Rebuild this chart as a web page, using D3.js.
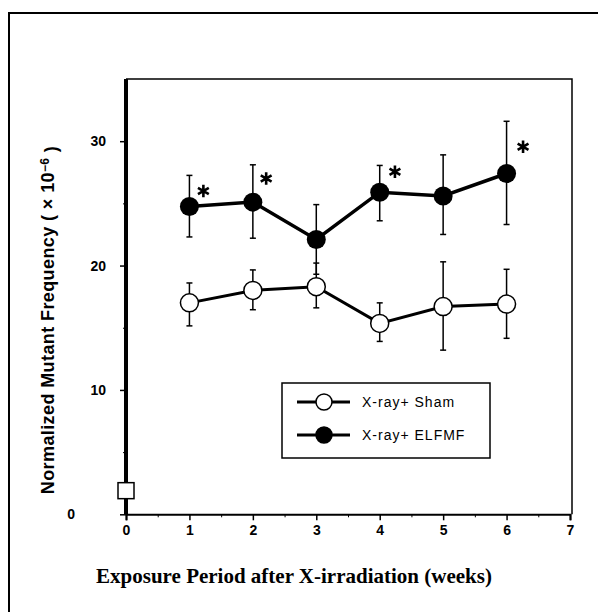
<!DOCTYPE html>
<html>
<head>
<meta charset="utf-8">
<script src="https://cdn.jsdelivr.net/npm/d3@7"></script>
<style>
  body { margin: 0; background: #fff; }
  svg { display: block; }
  .tick text { font-family: Arial, "Liberation Sans", sans-serif; font-weight: bold; font-size: 14px; fill: #000; }
</style>
</head>
<body>
<div id="vis-container"></div>
<script>
// data (normalized mutant frequency, x 10^-6)
const weeks = [1, 2, 3, 4, 5, 6];

const elfMean = [24.75, 25.1, 22.1, 25.9, 25.6, 27.4];
const elfLow  = [22.3, 22.2, 19.3, 23.6, 22.5, 23.3];
const elfHigh = [27.25, 28.1, 24.9, 28.05, 28.9, 31.6];

const shamMean = [17.0, 18.0, 18.3, 15.35, 16.7, 16.9];
const shamLow  = [15.15, 16.45, 16.6, 13.9, 13.2, 14.15];
const shamHigh = [18.6, 19.65, 20.2, 17.0, 20.3, 19.7];

// unexposed control at week 0
const controlWeek = [0];
const controlValue = [1.9];

// significance marks (data units)
const starWeek = [1.22, 2.21, 4.24, 6.26];
const starValue = [26.0, 27.0, 27.55, 29.55];

const xTicks = [0, 1, 2, 3, 4, 5, 6, 7];
const xMinorTicks = [0.5, 1.5, 2.5, 3.5, 4.5, 5.5, 6.5];
const yTicks = [0, 10, 20, 30];
const yMinorTicks = [5, 15, 25];

const legendLabels = ["X-ray+ Sham", "X-ray+ ELFMF"];

let width = 598;
let height = 612;

let svg = d3.select("#vis-container").append("svg").attr("width", width).attr("height", height);

// outer frame of the figure (runs off the right and bottom edge)
svg.append("rect")
    .attr("x", 9).attr("y", 13).attr("width", 620).attr("height", 620)
    .attr("fill", "none").attr("stroke", "#000").attr("stroke-width", 2);

let xScale = d3.scaleLinear().domain([0, 7]).range([126, 570]);
let yScale = d3.scaleLinear().domain([0, 35]).range([514.3, 79]);

let data = weeks.map((w, i) => ({
    week: w,
    elf: elfMean[i], elfLo: elfLow[i], elfHi: elfHigh[i],
    sham: shamMean[i], shamLo: shamLow[i], shamHi: shamHigh[i]
}));

// plot box: thin top and right borders
svg.append("path")
    .attr("d", `M${xScale(0)},${yScale(35)}H${xScale(7) + 2}V${yScale(0)}`)
    .attr("fill", "none").attr("stroke", "#000").attr("stroke-width", 1.5);

// x axis
let xAxisG = svg.append("g")
    .attr("transform", "translate(0," + yScale(0) + ")")
    .call(d3.axisBottom(xScale).tickValues(xTicks).tickSize(6).tickPadding(5).tickFormat(d3.format("d")));
xAxisG.select(".domain").attr("stroke-width", 2);
xAxisG.selectAll(".tick line").attr("stroke-width", 1.5);

svg.append("g")
    .attr("transform", "translate(0," + yScale(0) + ")")
    .call(d3.axisBottom(xScale).tickValues(xMinorTicks).tickSize(3).tickFormat(""))
    .call(g => g.select(".domain").remove());

// y axis
let yAxisG = svg.append("g")
    .attr("transform", "translate(" + xScale(0) + ",0)")
    .call(d3.axisLeft(yScale).tickValues(yTicks).tickSize(6).tickPadding(14));
yAxisG.select(".domain").remove();
yAxisG.selectAll(".tick line").attr("stroke-width", 1.5);
yAxisG.selectAll(".tick").filter(d => d === 0).select("text").attr("dx", -31);

svg.append("g")
    .attr("transform", "translate(" + xScale(0) + ",0)")
    .call(d3.axisLeft(yScale).tickValues(yMinorTicks).tickSize(3).tickFormat(""))
    .call(g => g.select(".domain").remove());

// thick left axis line
svg.append("line")
    .attr("x1", xScale(0)).attr("x2", xScale(0))
    .attr("y1", yScale(35)).attr("y2", yScale(0))
    .attr("stroke", "#000").attr("stroke-width", 4);

// error bars
function errorBars(lo, hi) {
    let g = svg.append("g").attr("stroke", "#000").attr("stroke-width", 1.5);
    g.selectAll("line.v").data(data).enter().append("line")
        .attr("x1", d => xScale(d.week)).attr("x2", d => xScale(d.week))
        .attr("y1", d => yScale(d[lo])).attr("y2", d => yScale(d[hi]));
    [lo, hi].forEach(k => {
        g.selectAll("line.c" + k).data(data).enter().append("line")
            .attr("x1", d => xScale(d.week) - 3).attr("x2", d => xScale(d.week) + 3)
            .attr("y1", d => yScale(d[k])).attr("y2", d => yScale(d[k]));
    });
}
errorBars("elfLo", "elfHi");
errorBars("shamLo", "shamHi");

// lines
let lineElf = d3.line().x(d => xScale(d.week)).y(d => yScale(d.elf));
let lineSham = d3.line().x(d => xScale(d.week)).y(d => yScale(d.sham));

svg.append("path").attr("d", lineSham(data))
    .attr("fill", "none").attr("stroke", "#000").attr("stroke-width", 3);
svg.append("path").attr("d", lineElf(data))
    .attr("fill", "none").attr("stroke", "#000").attr("stroke-width", 3.5);

// markers
svg.append("g").selectAll("circle").data(data).enter().append("circle")
    .attr("cx", d => xScale(d.week)).attr("cy", d => yScale(d.sham))
    .attr("r", 9).attr("fill", "#fff").attr("stroke", "#000").attr("stroke-width", 1.5);

svg.append("g").selectAll("circle").data(data).enter().append("circle")
    .attr("cx", d => xScale(d.week)).attr("cy", d => yScale(d.elf))
    .attr("r", 9.5).attr("fill", "#000");

// control square at week 0
svg.append("g").selectAll("rect").data(controlValue).enter().append("rect")
    .attr("x", (d, i) => xScale(controlWeek[i]) - 8)
    .attr("y", d => yScale(d) - 8)
    .attr("width", 16).attr("height", 16)
    .attr("fill", "#fff").attr("stroke", "#000").attr("stroke-width", 1.5);

// asterisks
let star = d3.symbol().type(d3.symbolAsterisk).size(110);
svg.append("g").selectAll("path").data(starValue).enter().append("path")
    .attr("d", star)
    .attr("transform", (d, i) => "translate(" + xScale(starWeek[i]) + "," + yScale(d) + ")")
    .attr("fill", "none").attr("stroke", "#000").attr("stroke-width", 2.6);

// legend
let legend = svg.append("g").attr("transform", "translate(282,383)");
legend.append("rect")
    .attr("width", 208).attr("height", 75)
    .attr("fill", "#fff").attr("stroke", "#000").attr("stroke-width", 1.5);

let rows = legend.selectAll("g.row").data(legendLabels).enter().append("g")
    .attr("transform", (d, i) => "translate(0," + (19 + i * 33) + ")");
rows.append("line")
    .attr("x1", 15).attr("x2", 68)
    .attr("stroke", "#000").attr("stroke-width", 3);
rows.append("circle")
    .attr("cx", 42).attr("r", 8)
    .attr("fill", (d, i) => i === 0 ? "#fff" : "#000")
    .attr("stroke", "#000").attr("stroke-width", 1.5);
rows.append("text")
    .attr("x", 80).attr("dy", "0.35em")
    .style("font-family", "Arial, 'Liberation Sans', sans-serif")
    .style("font-size", "14px")
    .style("letter-spacing", "1px")
    .text(d => d);

// axis titles
svg.append("text")
    .attr("x", 294).attr("y", 583)
    .attr("text-anchor", "middle")
    .style("font-family", "'Times New Roman', 'Liberation Serif', serif")
    .style("font-weight", "bold")
    .style("font-size", "21px")
    .text("Exposure Period after X-irradiation (weeks)");

let yTitle = svg.append("text")
    .attr("transform", "translate(54,320) rotate(-90)")
    .attr("text-anchor", "middle")
    .style("font-family", "Arial, 'Liberation Sans', sans-serif")
    .style("font-weight", "bold")
    .style("font-size", "18px")
    .style("letter-spacing", "0.4px");
yTitle.append("tspan").text("Normalized Mutant Frequency ( \u00d7 10");
yTitle.append("tspan").attr("dy", "-0.45em").style("font-size", "12px").text("\u22126");
yTitle.append("tspan").attr("dy", "0.45em").text(" )");
</script>
</body>
</html>
